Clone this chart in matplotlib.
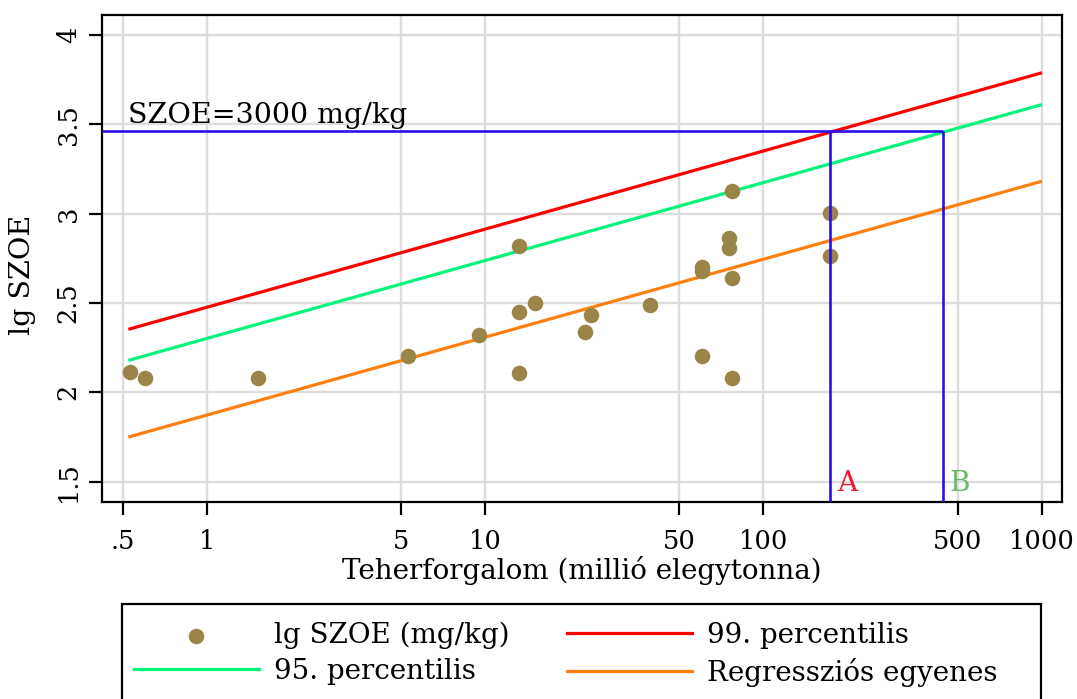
import matplotlib.pyplot as plt
from matplotlib.patches import Rectangle
from matplotlib.ticker import FixedLocator, FixedFormatter, NullLocator

plt.rcParams['font.family'] = ['DejaVu Serif']

# --- adatok (leolvasva az abrarol) ---
teherforgalom = [0.53, 0.60, 1.53, 5.28, 9.55, 13.3, 13.3, 13.3, 15.1, 22.8, 24.0,
                 39.2, 60.1, 60.1, 60.1, 75.2, 75.2, 77.0, 77.0, 77.0, 174, 174]
lg_szoe = [2.112, 2.079, 2.079, 2.205, 2.321, 2.821, 2.448, 2.110, 2.502, 2.339, 2.431,
           2.491, 2.703, 2.681, 2.205, 2.862, 2.806, 3.127, 2.638, 2.079, 3.002, 2.763]

vonal_x = [0.53, 990]
perc99 = [2.355, 3.786]
perc95 = [2.181, 3.608]
regresszio = [1.752, 3.179]

hatar = 3.46      # lg 3000
x_A = 173
x_B = 443

x_ticks = [0.5, 1, 5, 10, 50, 100, 500, 1000]
x_labels = ['.5', '1', '5', '10', '50', '100', '500', '1000']
y_ticks = [1.5, 2, 2.5, 3, 3.5, 4]
y_labels = ['1.5', '2', '2.5', '3', '3.5', '4']

XMIN, XMAX = 0.4218, 1180
YMIN, YMAX = 1.388, 4.112

# --- abra ---
fig = plt.figure(figsize=(10.77, 6.99), dpi=100)
ax = fig.add_axes([0.095, 0.2823, 0.8907, 0.6963])
ax.set_xscale('log')
ax.set_xlim(XMIN, XMAX)
ax.set_ylim(YMIN, YMAX)

ax.xaxis.set_major_locator(FixedLocator(x_ticks))
ax.xaxis.set_major_formatter(FixedFormatter(x_labels))
ax.xaxis.set_minor_locator(NullLocator())
ax.yaxis.set_major_locator(FixedLocator(y_ticks))
ax.yaxis.set_major_formatter(FixedFormatter(y_labels))

ax.grid(True, color='#dddddd', lw=1.7, zorder=0)
ax.set_axisbelow(True)
for sp in ax.spines.values():
    sp.set_linewidth(1.6)
ax.tick_params(axis='both', length=9.5, width=1.6, labelsize=18.5)
ax.tick_params(axis='x', pad=10)
ax.tick_params(axis='y', pad=6, labelrotation=90)
for lab in ax.get_yticklabels():
    lab.set_va('center')

l99, = ax.plot(vonal_x, perc99, color='#ff0000', lw=2.3, zorder=3)
l95, = ax.plot(vonal_x, perc95, color='#00f57a', lw=2.3, zorder=3)
lreg, = ax.plot(vonal_x, regresszio, color='#ff7f0e', lw=2.3, zorder=3)
pontok = ax.scatter(teherforgalom, lg_szoe, s=125, color='#9b8448', zorder=4, linewidths=0)

# 3000 mg/kg hatar
ax.hlines(hatar, XMIN, x_B, color='#2a10e6', lw=1.9, zorder=5)
ax.vlines([x_A, x_B], YMIN, hatar, color='#2a10e6', lw=1.9, zorder=5)
ax.text(0.522, 3.505, 'SZOE=3000 mg/kg', fontsize=20.5, va='baseline', ha='left')
ax.text(184, 1.45, 'A', color='#ee1c2e', fontsize=20, va='baseline', ha='left')
ax.text(466, 1.45, 'B', color='#66bb66', fontsize=20, va='baseline', ha='left')

ax.set_xlabel('Teherforgalom (millió elegytonna)', fontsize=20, va='baseline')
ax.xaxis.set_label_coords(0.5, -0.1588)
ax.set_ylabel('lg SZOE', fontsize=20.5, va='center')
ax.yaxis.set_label_coords(-0.083, 0.466)

# jelmagyarazat
kw = dict(frameon=False, loc='upper left', fontsize=20, borderpad=0, borderaxespad=0,
          handlelength=4.5, handletextpad=0.55, labelspacing=0.32, scatterpoints=1)
fig.legend([pontok, l95], ['lg SZOE (mg/kg)', '95. percentilis'],
           bbox_to_anchor=(0.1244, 0.1102), **kw)
fig.legend([l99, lreg], ['99. percentilis', 'Regressziós egyenes'],
           bbox_to_anchor=(0.5265, 0.1102), **kw)
fig.add_artist(Rectangle((0.1133, -0.05), 0.8533, 0.1859, transform=fig.transFigure,
                         fill=False, lw=1.6, edgecolor='black', clip_on=False))

fig.savefig('out.png', dpi=100)
